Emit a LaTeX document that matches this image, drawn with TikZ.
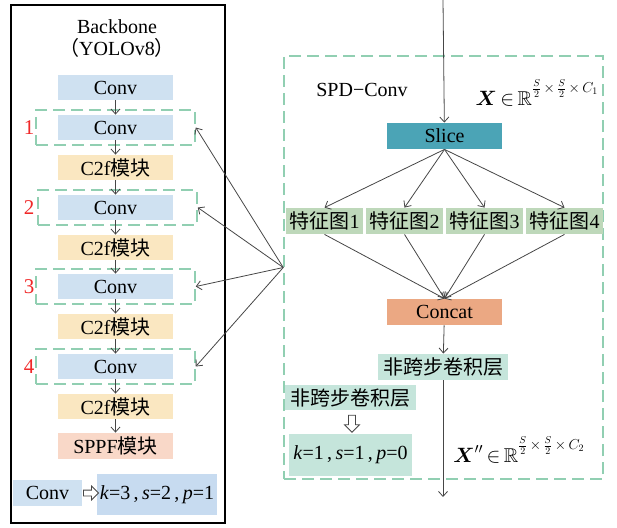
\documentclass[tikz,border=0pt]{standalone}
\usepackage{amsmath, amssymb}
\usepackage{fontspec}
\setmainfont{Liberation Serif}
\newfontfamily\cjk{Noto Sans CJK SC}
\usetikzlibrary{arrows.meta, shapes.arrows}

\definecolor{convblue}{RGB}{207,225,241}
\definecolor{parblue}{RGB}{199,219,240}
\definecolor{cfyellow}{RGB}{250,231,193}
\definecolor{sppfred}{RGB}{249,216,200}
\definecolor{slicecol}{RGB}{75,164,182}
\definecolor{featgreen}{RGB}{190,216,186}
\definecolor{concatcol}{RGB}{235,168,131}
\definecolor{nscgreen}{RGB}{197,229,219}
\definecolor{dashgreen}{RGB}{145,207,178}
\definecolor{linegray}{RGB}{70,70,70}
\definecolor{numred}{RGB}{240,40,40}

\newcommand{\spdexp}[1]{^{\raisebox{5pt}{$\scriptstyle\frac{S}{2}\,\times\,\frac{S}{2}\,\times\,C_{#1}$}}}

\tikzset{
	txt/.style={inner sep=0pt, font=\fontsize{20}{22}\selectfont},
	blk/.style={txt, minimum height=25pt},
	convbox/.style={blk, fill=convblue, minimum width=115pt},
	cfbox/.style={blk, fill=cfyellow, minimum width=115pt},
	dbox/.style={draw=dashgreen, line width=1.5pt, dash pattern=on 12pt off 6pt, inner sep=0pt},
	featbox/.style={blk, fill=featgreen, minimum width=77pt, minimum height=26pt},
	hollow/.style={single arrow, draw=linegray, line width=0.8pt, fill=white, inner sep=3pt, single arrow head extend=4pt},
}

\begin{document}
\begin{tikzpicture}[x=1pt, y=-1pt, line width=0.8pt, draw=linegray, >={Straight Barb[length=5pt,width=9pt]}]
	\useasboundingbox (0,0) rectangle (617,527);

	\begin{scope}
		\draw[black, line width=1.2pt] (11,5) rectangle (225,523);
		\node[txt, align=center] (title) at (117,39) {Backbone\\{\cjk （}YOLOv8{\cjk ）}};

		\node[convbox] (conv0) at (115.5,87.5) {Conv};
		\foreach \n/\y/\dx in {1/127.5/115.5, 2/207.5/117.5, 3/286.5/115.5, 4/366.5/115.5} {
			\node[convbox] (conv\n) at (115.5,\y) {Conv};
			\node[cfbox] (cf\n) at (115.5,\y+40) {C2f{\cjk 模块}};
			\node[dbox, minimum width=159pt, minimum height=35pt] (d\n) at (\dx,\y) {};
			\node[txt, text=numred, font=\fontsize{21}{22}\selectfont] (num\n) at (29,\y) {\n};
		}
		\node[blk, fill=sppfred, minimum width=115pt, minimum height=26pt] (sppf) at (115.5,446) {SPPF{\cjk 模块}};

		\foreach \a/\b in {conv0/conv1, conv1/cf1, cf1/conv2, conv2/cf2, cf2/conv3, conv3/cf3, cf3/conv4, conv4/cf4, cf4/sppf}
			\draw[->] (\a) -- (\b);

		\node[blk, fill=convblue, minimum width=69pt, minimum height=26pt] (convL) at (47.5,493) {Conv};
		\node[blk, fill=parblue, minimum width=120pt, minimum height=41pt] (parL) at (157,494.5) {\textit{k}=3\,,\,\textit{s}=2\,,\,\textit{p}=1};
		\node[hollow, minimum height=15pt, minimum width=13pt, inner sep=2.5pt] (harrL) at (89.5,493) {};
	\end{scope}

	\begin{scope}
		\node[dbox, minimum width=319pt, minimum height=423pt] (spd) at (443.5,267.5) {};
		\node[txt] (spdlbl) at (362,90) {SPD−Conv};
		\node[txt] (xin) at (537,93) {$\boldsymbol{X}\,{\in}\,\mathbb{R}\spdexp{1}$};

		\coordinate (inp) at (443,0);
		\node[blk, fill=slicecol, minimum width=115pt, minimum height=26pt] (slice) at (444.5,136) {Slice};
		\node[blk, fill=concatcol, minimum width=115pt, minimum height=26pt] (concat) at (444.5,312) {Concat};
		\node[blk, fill=nscgreen, minimum width=130pt, minimum height=26pt] (nsc) at (443,367) {\cjk 非跨步卷积层};
		\coordinate (outp) at (443,497);

		\draw[->] (inp) -- (slice);
		\foreach \i/\x in {1/324.5, 2/404.5, 3/484.5, 4/564.5} {
			\node[featbox] (f\i) at (\x,221) {{\cjk 特征图}\i};
			\draw[->] (slice.south) -- (f\i.north);
			\draw[->] (f\i.south) -- (concat.north);
		}
		\draw[->] (concat) -- (nsc);
		\draw[->] (nsc) -- (outp);

		\node[blk, fill=nscgreen, minimum width=131pt] (nscL) at (350.5,397.5) {\cjk 非跨步卷积层};
		\node[hollow, rotate=-90, minimum height=17pt, minimum width=15pt] (harrR) at (352,422) {};
		\node[blk, fill=nscgreen, minimum width=123pt, minimum height=42pt] (parR) at (350.5,455) {\textit{k}=1\,,\,\textit{s}=1\,,\,\textit{p}=0};
		\node[txt] (xout) at (519,450) {$\boldsymbol{X}''\,{\in}\,\mathbb{R}\spdexp{2}$};
	\end{scope}

	\foreach \i in {1,...,4}
		\draw[->] (spd.west) -- (d\i.east);
\end{tikzpicture}
\end{document}
